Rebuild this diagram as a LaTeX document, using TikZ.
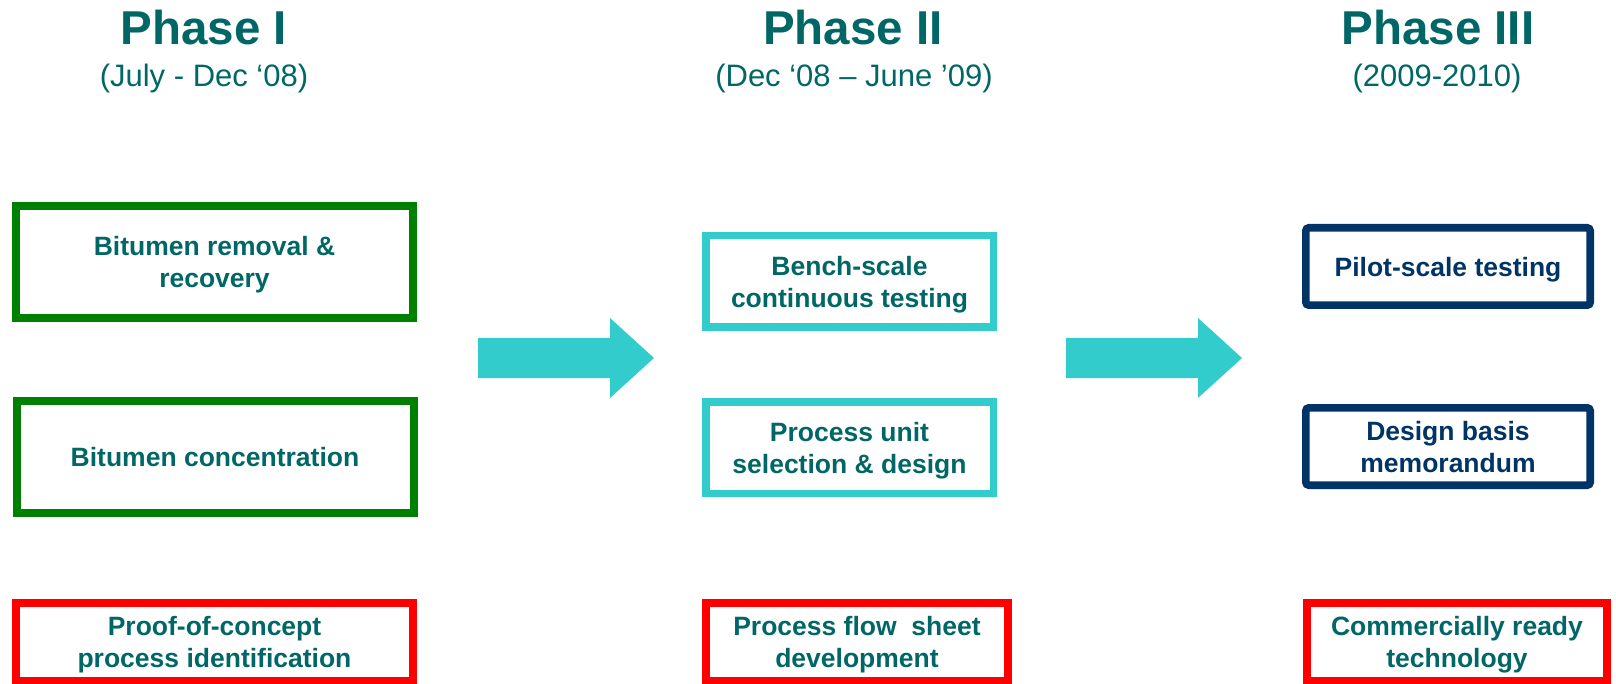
\documentclass[tikz,border=0pt]{standalone}
\usepackage{fontspec}
\setmainfont{Liberation Sans}

\definecolor{phasetext}{RGB}{0,102,102}
\definecolor{stepgreen}{RGB}{0,128,0}
\definecolor{stepcyan}{RGB}{51,204,204}
\definecolor{stepnavy}{RGB}{0,51,102}
\definecolor{stepred}{RGB}{255,0,0}

\begin{document}
\begin{tikzpicture}[x=1pt,y=-1pt,
    phasetitle/.style={font=\bfseries\fontsize{47.5}{57}\selectfont, text=phasetext, anchor=base},
    phasedate/.style={font=\fontsize{31}{37}\selectfont, text=phasetext, anchor=base},
    task/.style={draw, inner sep=0pt, align=center, text=phasetext, text depth=0pt,
        font=\bfseries\fontsize{26.5}{31.8}\selectfont},
    taskone/.style={task, draw=stepgreen, line width=8pt, minimum width=397pt, minimum height=112pt},
    tasktwo/.style={task, draw=stepcyan, line width=7.5pt, minimum width=287.5pt, minimum height=91.5pt},
    taskthree/.style={task, draw=stepnavy, text=stepnavy, line width=7.7pt, rounded corners=3pt,
        minimum width=284.3pt, minimum height=77.3pt},
    goal/.style={task, draw=stepred, line width=8pt, minimum height=78pt},
    blockarrow/.style={fill=stepcyan}]
    \useasboundingbox (0,0) rectangle (1616,684);

    % phase headings
    \node[phasetitle] (t1) at (204,45) {Phase I};
    \node[phasedate] (d1) at (204,87) {(July - Dec ‘08)};
    \node[phasetitle] (t2) at (853,45) {Phase II};
    \node[phasedate] (d2) at (854,87) {(Dec ‘08 – June ’09)};
    \node[phasetitle] (t3) at (1438,45) {Phase III};
    \node[phasedate] (d3) at (1437,87) {(2009-2010)};

    % phase I
    \node[taskone] (removal) at (214.5,262) {Bitumen removal \&\\recovery};
    \node[taskone] (concentration) at (215,457) {Bitumen concentration};
    \node[goal, minimum width=397pt] (proof) at (214.5,642) {Proof-of-concept\\process identification};

    % phase II
    \node[tasktwo] (bench) at (849.5,281.5) {Bench-scale\\continuous testing};
    \node[tasktwo] (unit) at (849.5,447.5) {Process unit\\selection \& design};
    \node[goal, minimum width=302pt] (flowsheet) at (857,642) {Process flow\ \ sheet\\development};

    % phase III
    \node[taskthree] (pilot) at (1448,266.5) {Pilot-scale testing};
    \node[taskthree] (basis) at (1448,446.5) {Design basis\\memorandum};
    \node[goal, minimum width=300pt] (ready) at (1457,642) {Commercially ready\\technology};

    % arrows between phases
    \fill[blockarrow] (478,338) -- (610,338) -- (610,318) -- (654,358)
        -- (610,398) -- (610,378) -- (478,378) -- cycle;
    \fill[blockarrow] (1066,338) -- (1198,338) -- (1198,318) -- (1242,358)
        -- (1198,398) -- (1198,378) -- (1066,378) -- cycle;
\end{tikzpicture}
\end{document}
